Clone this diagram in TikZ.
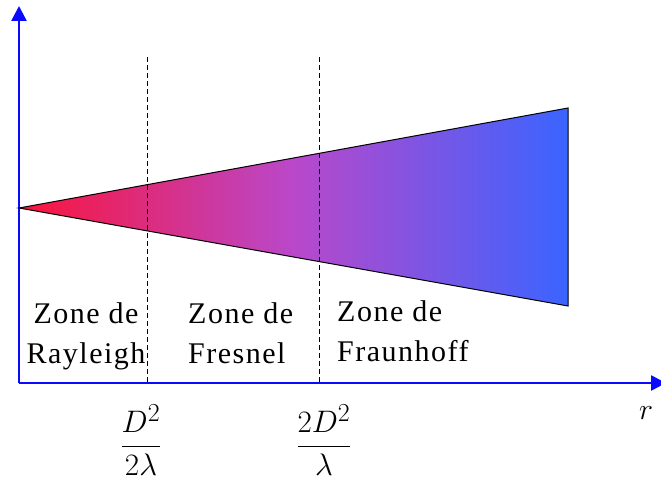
\documentclass[tikz,border=0pt]{standalone}
\usepackage{fontspec}
\setmainfont{Liberation Serif}[LetterSpace=5]
\usepackage{tikz}
\usetikzlibrary{positioning,arrows.meta}

\definecolor{conered}{RGB}{250,20,60}
\definecolor{conemid}{RGB}{185,72,202}
\definecolor{coneblue}{RGB}{58,100,255}
\definecolor{axisblue}{RGB}{10,10,255}

\begin{document}
\begin{tikzpicture}[
    x=1pt, y=-1pt,
    axis/.style={draw=axisblue, line width=2.6pt, -{Triangle[length=15pt,width=15pt]}},
    limit/.style={draw=black, line width=0.9pt, dash pattern=on 5pt off 3pt},
    zone/.style={inner sep=0pt, align=left, font=\fontsize{30}{40}\selectfont},
    bound/.style={inner sep=0pt, font=\fontsize{24.88}{30}\selectfont}
]
\useasboundingbox (0,0) rectangle (661,481);
% axes
\coordinate (origin) at (19,383);
\coordinate (yend) at (19,6);
\coordinate (xend) at (666,383);
\draw[axis] (origin) -- (yend);
\draw[axis] (origin) -- (xend);
% radiated beam
\coordinate (apex) at (19,208);
\coordinate (topright) at (568,108);
\coordinate (botright) at (568,306);
\shade[left color=conered, right color=coneblue, middle color=conemid] (apex) -- (topright) -- (botright) -- cycle;
\draw[line width=1pt, line join=miter] (apex) -- (topright) -- (botright) -- cycle;
% zone limits
\coordinate (lim1top) at (147,57);
\coordinate (lim1bot) at (147,383);
\coordinate (lim2top) at (319,57);
\coordinate (lim2bot) at (319,383);
\draw[limit] (lim1top) -- (lim1bot);
\draw[limit] (lim2top) -- (lim2bot);
% labels
\node[zone, align=center, anchor=north] (rayleigh) at (86,302) {Zone de\\Rayleigh};
\node[zone, anchor=north west] (fresnel) at (188,302) {Zone de\\Fresnel};
\node[zone, anchor=north west] (fraunhoff) at (337,300) {Zone de\\Fraunhoff};
\node[bound] (d1) at (141,440) {\scalebox{1.25}{$\displaystyle\frac{D^2}{2\lambda}$}};
\node[bound] (d2) at (324,440) {\scalebox{1.25}{$\displaystyle\frac{2D^2}{\lambda}$}};
\node[bound] (r) at (646,413) {\scalebox{1.2}{$r$}};
\end{tikzpicture}
\end{document}
